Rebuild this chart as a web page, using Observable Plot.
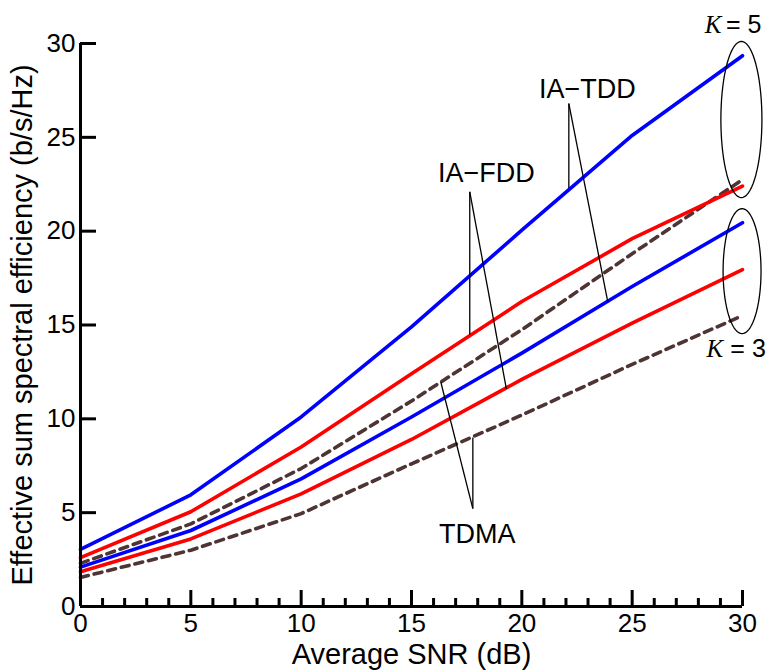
<!DOCTYPE html>
<html>
<head>
<meta charset="utf-8">
<script src="https://cdn.jsdelivr.net/npm/d3@7"></script>
<script src="https://cdn.jsdelivr.net/npm/@observablehq/plot@0.6"></script>
<style>
  html, body { margin: 0; padding: 0; background: #fff; }
</style>
</head>
<body>
<div id="chart"></div>
<script>
// ---- data ----
const snr = [0, 5, 10, 15, 20, 25, 30];
const iaTddK5 = [3.04, 5.95, 10.1, 14.9, 20.05, 25.1, 29.35];
const iaFddK5 = [2.6, 5.05, 8.5, 12.4, 16.25, 19.6, 22.4];
const tdmaK5  = [2.3, 4.4, 7.35, 10.95, 14.75, 18.8, 22.75];
const iaTddK3 = [2.1, 4.05, 6.8, 10.1, 13.5, 17.05, 20.45];
const iaFddK3 = [1.85, 3.6, 6.0, 8.9, 12.1, 15.1, 17.95];
const tdmaK3  = [1.55, 3.0, 4.95, 7.6, 10.2, 12.9, 15.5];

const xMajor = [0, 5, 10, 15, 20, 25, 30];
const xMinor = [1, 2, 3, 4, 6, 7, 8, 9, 11, 12, 13, 14, 16, 17, 18, 19, 21, 22, 23, 24, 26, 27, 28, 29];
const yMajor = [0, 5, 10, 15, 20, 25, 30];

const xLabel = "Average SNR (dB)";
const yLabel = "Effective sum spectral efficiency (b/s/Hz)";

// annotation labels (data coordinates)
const annoText = [
  {x: 22.97, y: 27.57, text: "IA\u2212TDD"},
  {x: 18.39, y: 23.1, text: "IA\u2212FDD"},
  {x: 17.98, y: 3.84, text: "TDMA"}
];
const kItalic = [
  {x: 29.05, y: 30.98, text: "K"},
  {x: 29.12, y: 13.7, text: "K"}
];
const kRest = [
  {x: 29.25, y: 30.98, text: "= 5"},
  {x: 29.45, y: 13.7, text: "= 3"}
];
// leader lines: origin -> target (data coordinates)
const leaders = [
  {x1: 22.13, y1: 26.8, x2: 22.13, y2: 22.3},
  {x1: 22.13, y1: 26.8, x2: 23.9, y2: 16.2},
  {x1: 17.64, y1: 22.1, x2: 17.64, y2: 14.5},
  {x1: 17.64, y1: 22.1, x2: 19.3, y2: 11.6},
  {x1: 17.78, y1: 5.22, x2: 17.78, y2: 9.0},
  {x1: 17.78, y1: 5.22, x2: 16.33, y2: 11.95}
];
// ellipses grouping K=5 and K=3 line ends: center and radii in data units
const ellipses = [
  {name: "K5", cx: 29.95, cy: 25.95, rx: 0.93, ry: 4.16},
  {name: "K3", cx: 29.98, cy: 17.87, rx: 0.86, ry: 3.33}
];
const ellipsePts = ellipses.flatMap(e =>
  d3.range(0, 73).map(k => {
    const t = (k / 72) * 2 * Math.PI;
    return {name: e.name, x: e.cx + e.rx * Math.cos(t), y: e.cy + e.ry * Math.sin(t)};
  })
);

const BLUE = "#0000ff", RED = "#ff0000", BROWN = "#4f3434";
const LW = 3.6;

const solid = (arr, color) => Plot.line(snr, {x: d => d, y: (d, i) => arr[i], stroke: color, strokeWidth: LW});
const dashed = (arr) => Plot.line(snr, {x: d => d, y: (d, i) => arr[i], stroke: BROWN, strokeWidth: LW, strokeDasharray: "8,6"});

const chart = Plot.plot({
  width: 773,
  height: 670,
  marginLeft: 80,
  marginRight: 31,
  marginTop: 43,
  marginBottom: 64,
  style: {fontFamily: "'Liberation Sans', Arial, Helvetica, sans-serif", fontSize: "26px", background: "#fff", color: "#000", overflow: "visible"},
  x: {domain: [0, 30]},
  y: {domain: [0, 30]},
  marks: [
    dashed(tdmaK3),
    dashed(tdmaK5),
    solid(iaFddK3, RED),
    solid(iaTddK3, BLUE),
    solid(iaFddK5, RED),
    solid(iaTddK5, BLUE),
    // axes
    Plot.ruleX([0], {stroke: "#000", strokeWidth: 3}),
    Plot.ruleY([0], {stroke: "#000", strokeWidth: 3}),
    Plot.ruleX(xMajor, {x: d => d, y1: 0, y2: 0, insetTop: -16, stroke: "#000", strokeWidth: 3}),
    Plot.ruleX(xMinor, {x: d => d, y1: 0, y2: 0, insetTop: -8, stroke: "#000", strokeWidth: 3}),
    Plot.ruleY(yMajor, {y: d => d, x1: 0, x2: 0, insetRight: -16, stroke: "#000", strokeWidth: 3}),
    Plot.axisX(xMajor, {tickSize: 0, tickPadding: 7, label: null, fontSize: 26}),
    Plot.axisY(yMajor, {tickSize: 0, tickPadding: 5, label: null, fontSize: 26}),
    Plot.text([xLabel], {text: d => d, frameAnchor: "bottom", textAnchor: "middle", lineAnchor: "middle", dy: 48, fontSize: 29}),
    Plot.text([yLabel], {text: d => d, frameAnchor: "left", textAnchor: "middle", lineAnchor: "middle", rotate: -90, dx: -58, fontSize: 29}),
    // annotations
    Plot.line(ellipsePts, {x: "x", y: "y", z: "name", stroke: "#000", strokeWidth: 1.3}),
    Plot.link(leaders, {x1: "x1", y1: "y1", x2: "x2", y2: "y2", stroke: "#000", strokeWidth: 1.3}),
    Plot.text(annoText, {x: "x", y: "y", text: "text", fontSize: 27}),
    Plot.text(kItalic, {x: "x", y: "y", text: "text", textAnchor: "end", fontSize: 25, fontStyle: "italic", fontFamily: "'Liberation Serif', 'DejaVu Serif', serif"}),
    Plot.text(kRest, {x: "x", y: "y", text: "text", textAnchor: "start", fontSize: 25})
  ]
});
document.getElementById("chart").appendChild(chart);
</script>
</body>
</html>
